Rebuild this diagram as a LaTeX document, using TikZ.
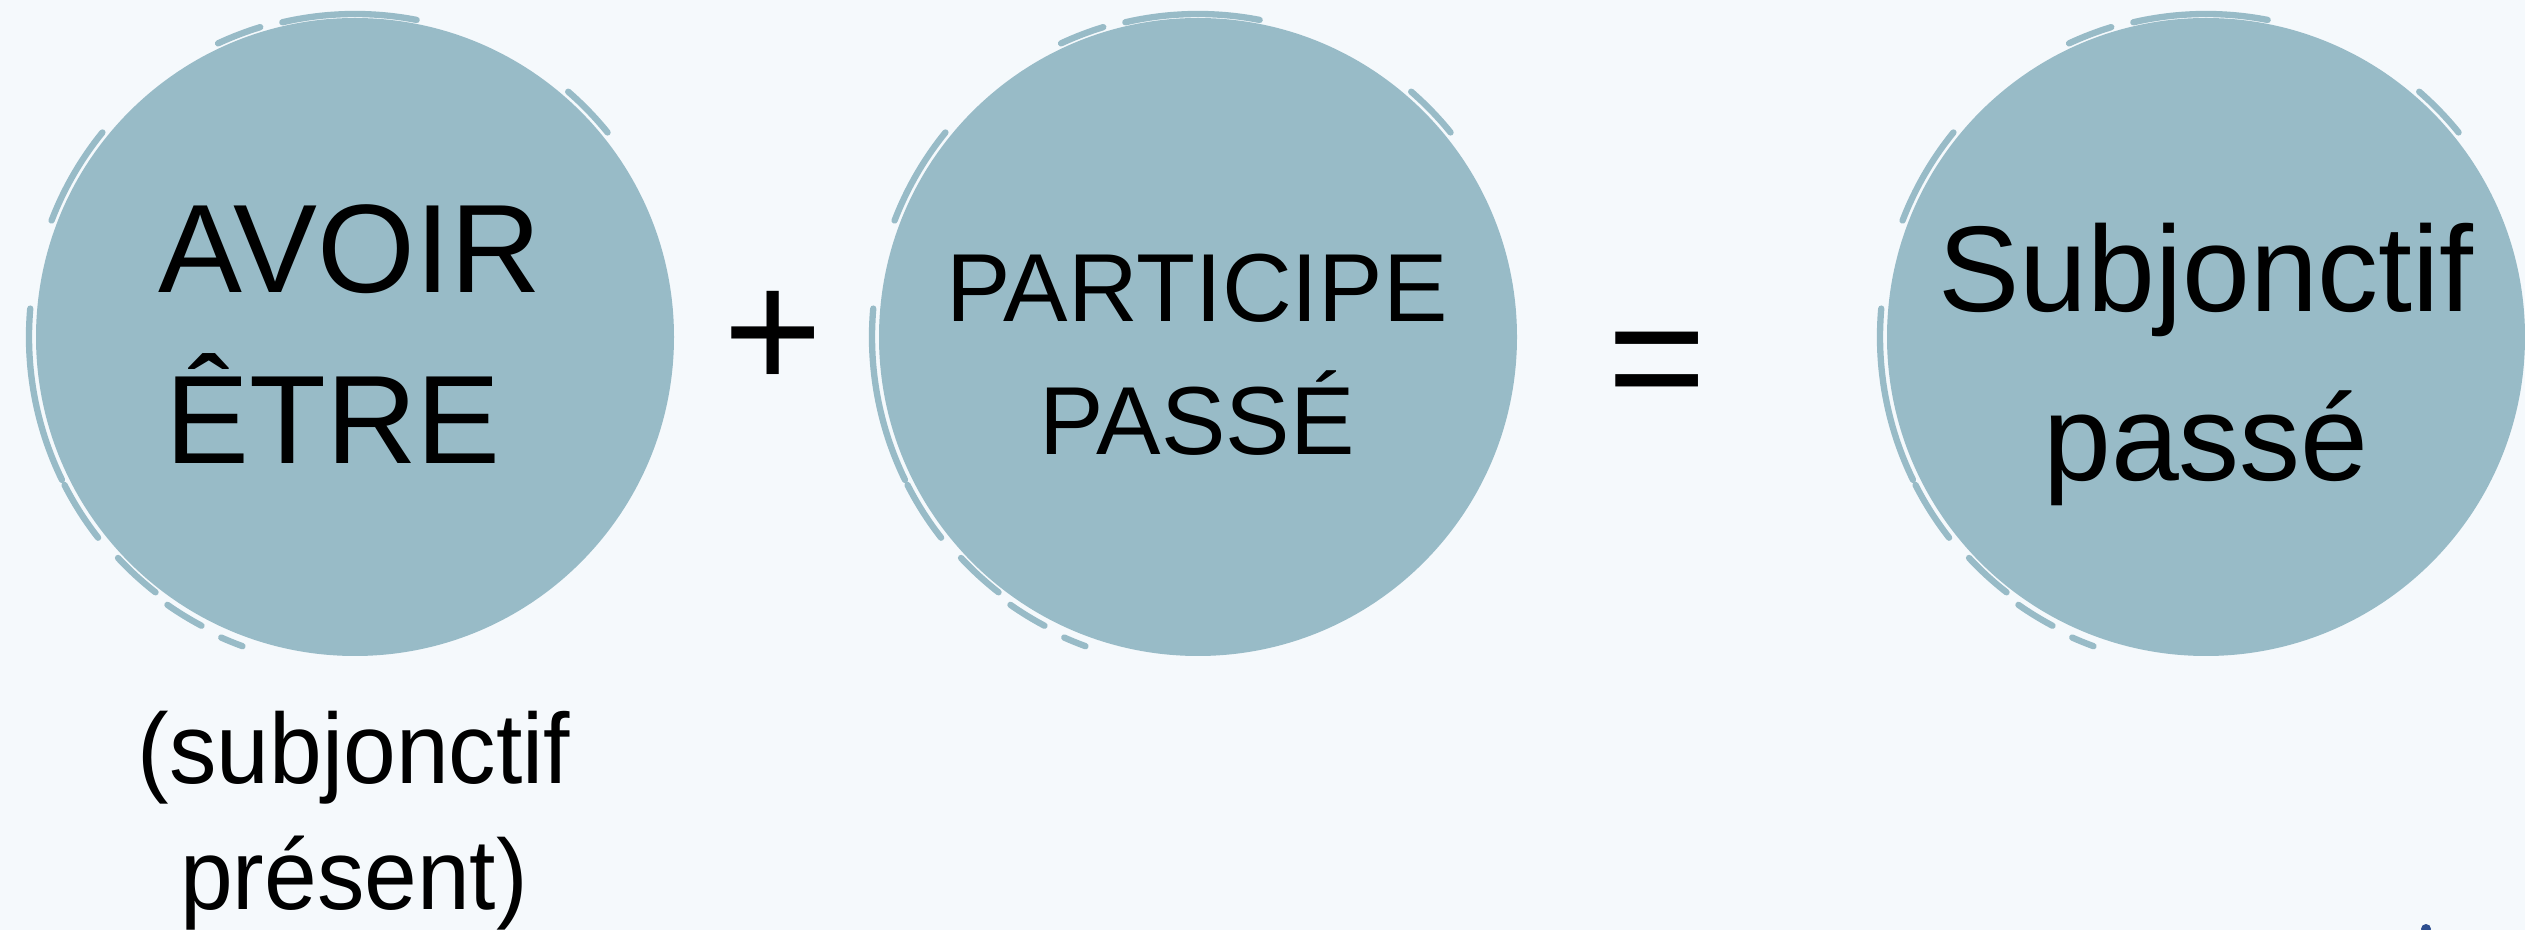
\documentclass[tikz,border=0pt]{standalone}
\usepackage{fontspec}
\setmainfont{Liberation Sans}
\usepackage{graphicx}
\usepackage{tikz}
\usetikzlibrary{positioning,calc}
\definecolor{paper}{HTML}{F5F9FC}
\definecolor{blob}{HTML}{98BBC7}
\definecolor{ink}{HTML}{2D4E8F}
\newcommand{\narrowtxt}[1]{\scalebox{0.95}[1]{#1}}

\begin{document}
\begin{tikzpicture}[
    blobnode/.style={circle,fill=blob,minimum size=6.38cm,inner sep=0pt},
    brush/.style={draw=blob,line width=1.8pt,line cap=round},
    word/.style={align=center,inner sep=0pt,text=black},
    sign/.style={anchor=base,inner sep=0pt,font=\fontsize{48.4}{58}\selectfont}
  ]
  \fill[paper] (0,0) rectangle (25.25,-9.30);
  \useasboundingbox (0,0) rectangle (25.25,-9.30);

  % painted discs
  \node[blobnode] (avoir) at (3.55,-3.37) {};
  \node[blobnode] (participe) at (11.98,-3.37) {};
  \node[blobnode] (subj) at (22.06,-3.37) {};
  \foreach \c in {avoir,participe,subj}{
    \foreach \a/\b/\r in {103/79/3.23, 115/107/3.24, 159/141/3.25, 175/206/3.26,
        207/218/3.26, 223/232/3.24, 235/242/3.27, 246/250/3.29, 49/39/3.25}
      \draw[brush] ([shift={(\a:\r)}]\c.center) arc[start angle=\a, end angle=\b, radius=\r];
  }

  \node[word,font=\fontsize{35.8}{48.6}\selectfont] (avoirtxt) at (3.50,-3.34) {AVOIR\\ÊTRE\hspace*{0.34cm}};
  \node[word,font=\fontsize{27.5}{37.8}\selectfont] (participetxt) at (11.97,-3.545) {PARTICIPE\\PASSÉ};
  \node[word,font=\fontsize{34.7}{48.1}\selectfont] (subjtxt) at (22.06,-3.64) {Subjonctif\\passé};
  \node[word,font=\fontsize{28.4}{35.8}\selectfont] (present) at (3.54,-8.21) {\narrowtxt{(subjonctif}\\\narrowtxt{présent)}};

  \node[sign] (plus) at (7.73,-3.90) {+};
  \node[sign] (equals) at (16.57,-4.16) {=};

  \fill[ink] (24.26,-9.29) circle (0.05);
\end{tikzpicture}
\end{document}
